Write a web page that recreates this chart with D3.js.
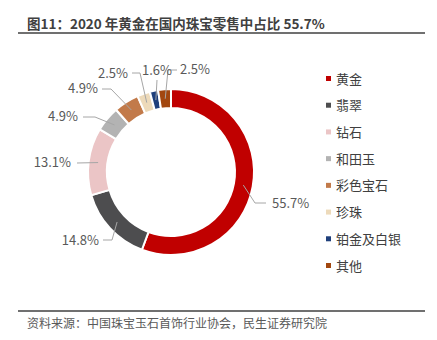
<!DOCTYPE html>
<html>
<head>
<meta charset="utf-8">
<script src="https://cdn.jsdelivr.net/npm/d3@7"></script>
<style>
  html, body { margin: 0; padding: 0; background: #fff; }
  svg { display: block; }
  text { font-family: "Microsoft YaHei", "Noto Sans CJK SC", "Noto Sans", sans-serif; }
</style>
</head>
<body>
<svg id="chart" width="437" height="340"></svg>
<script>
const titleText = "图11：2020 年黄金在国内珠宝零售中占比 55.7%";
const sourceText = "资料来源：中国珠宝玉石首饰行业协会，民生证券研究院";
const categories = ["黄金", "翡翠", "钻石", "和田玉", "彩色宝石", "珍珠", "铂金及白银", "其他"];
const values = [55.7, 14.8, 13.1, 4.9, 4.9, 2.5, 1.6, 2.5];
const colors = ["#C00000", "#4D4D4F", "#EBC5C6", "#B3B3B3", "#C27A4A", "#EDDABA", "#1F3F7B", "#A2470F"];

// label layout (text anchor point relative to donut centre, leader elbow relative to centre)
const labelLayout = [
  { tx: 101, ty: 36, anchor: "start", elbow: [84, 31], end: [95, 31] },
  { tx: -72, ty: 73, anchor: "end", elbow: [-59, 68], end: [-68, 68] },
  { tx: -100, ty: -5, anchor: "end", elbow: [-94, -9], end: [-94, -9] },
  { tx: -93, ty: -51, anchor: "end", elbow: [-76, -55], end: [-88, -55] },
  { tx: -73, ty: -79, anchor: "end", elbow: [-60, -83], end: [-69, -83] },
  { tx: -43, ty: -94, anchor: "end", elbow: [-31, -99], end: [-39, -99] },
  { tx: -14, ty: -97, anchor: "middle", elbow: [-14, -92], end: [-14, -92] },
  { tx: 9, ty: -98, anchor: "start", elbow: [-3, -102], end: [6, -102] }
];

const svg = d3.select("#chart");

// title
svg.append("text")
  .attr("x", 27).attr("y", 29)
  .attr("font-size", 13.5).attr("font-weight", "bold")
  .attr("fill", "#404040")
  .text(titleText);
svg.append("line")
  .attr("x1", 18).attr("x2", 425).attr("y1", 33).attr("y2", 33)
  .attr("stroke", "#404040").attr("stroke-width", 1.3);

// source
svg.append("line")
  .attr("x1", 18).attr("x2", 425).attr("y1", 311).attr("y2", 311)
  .attr("stroke", "#404040").attr("stroke-width", 1.3);
svg.append("text")
  .attr("x", 27).attr("y", 328)
  .attr("font-size", 12).attr("fill", "#595959")
  .text(sourceText);

// donut
const cx = 171, cy = 172;
const rOuter = 83, rInner = 64;
const data = categories.map((c, i) => ({ cat: c, value: values[i], color: colors[i], i }));
const pie = d3.pie().sort(null).value(d => d.value).startAngle(0).endAngle(2 * Math.PI);
const arcs = pie(data);
const arc = d3.arc().innerRadius(rInner).outerRadius(rOuter);
const midArc = d3.arc().innerRadius((rInner + rOuter) / 2).outerRadius((rInner + rOuter) / 2);

const g = svg.append("g").attr("transform", `translate(${cx},${cy})`);
g.selectAll("path.slice")
  .data(arcs).enter().append("path")
  .attr("class", "slice")
  .attr("d", arc)
  .attr("fill", d => d.data.color)
  .attr("stroke", "#fff").attr("stroke-width", 2);

// leader lines
g.selectAll("polyline.leader")
  .data(arcs).enter().append("polyline")
  .attr("class", "leader")
  .attr("points", d => {
    const L = labelLayout[d.index];
    const c = midArc.centroid(d);
    return [c, L.elbow, L.end].map(p => p.join(",")).join(" ");
  })
  .attr("fill", "none").attr("stroke", "#A6A6A6").attr("stroke-width", 1);

// labels
g.selectAll("text.lbl")
  .data(arcs).enter().append("text")
  .attr("class", "lbl")
  .attr("x", d => labelLayout[d.index].tx)
  .attr("y", d => labelLayout[d.index].ty)
  .attr("text-anchor", d => labelLayout[d.index].anchor)
  .attr("font-size", 13).attr("fill", "#595959")
  .text(d => d.data.value.toFixed(1) + "%");

// legend
const legY = d3.scalePoint().domain(categories).range([79, 266]);
const leg = svg.append("g");
leg.selectAll("rect")
  .data(data).enter().append("rect")
  .attr("x", 326).attr("y", d => legY(d.cat) - 3)
  .attr("width", 5).attr("height", 5)
  .attr("fill", d => d.color);
leg.selectAll("text")
  .data(data).enter().append("text")
  .attr("x", 336).attr("y", d => legY(d.cat) + 4.5)
  .attr("font-size", 13).attr("fill", "#404040")
  .text(d => d.cat);
</script>
</body>
</html>
